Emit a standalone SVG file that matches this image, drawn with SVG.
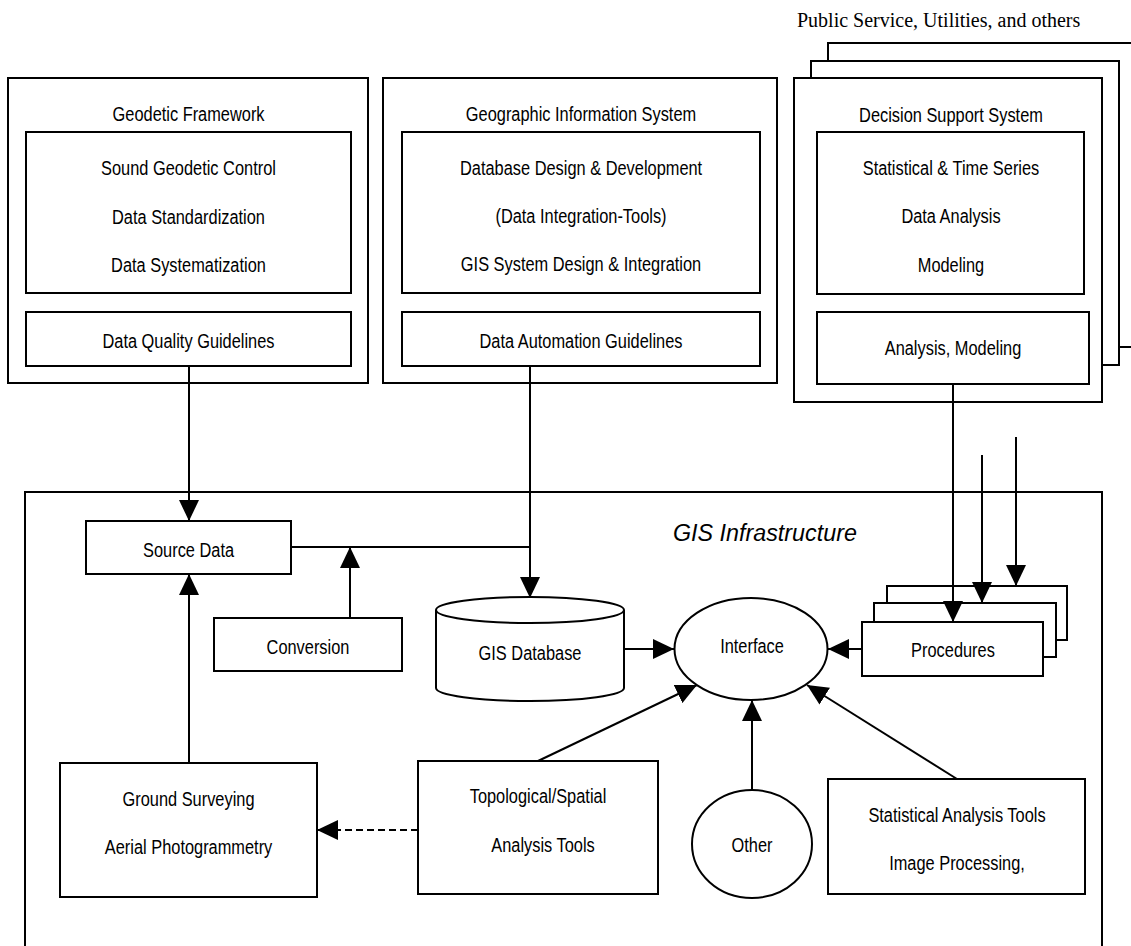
<svg xmlns="http://www.w3.org/2000/svg" width="1131" height="946" viewBox="0 0 1131 946">
  <style>
    .box { fill: #ffffff; stroke: #000000; stroke-width: 2; }
    .line { fill: none; stroke: #000000; stroke-width: 2; }
    .dash { fill: none; stroke: #000000; stroke-width: 2; stroke-dasharray: 7 4; }
    /* narrow sans: regular sans squeezed horizontally about each label's own centre */
    .t { font-family: "Liberation Sans Narrow", "Liberation Sans", Arial, sans-serif; font-size: 21px; fill: #000000; text-anchor: middle;
         transform-box: fill-box; transform-origin: center; transform: scaleX(0.78); }
    .serif { font-family: "Liberation Serif", "Times New Roman", serif; font-size: 20px; fill: #000000; }
    .title { font-family: "Liberation Sans", Arial, sans-serif; font-style: italic; font-size: 23.3px; fill: #000000; }
  </style>
  <defs>
    <marker id="arrow" markerUnits="userSpaceOnUse" markerWidth="21" markerHeight="20" refX="21" refY="10" orient="auto">
      <path d="M0,0 L21,10 L0,20 Z" fill="#000000"/>
    </marker>
  </defs>
  <rect width="1131" height="946" fill="#ffffff"/>

  <!-- GIS infrastructure frame (runs past the lower edge) -->
  <g id="gis-infrastructure">
    <rect class="box" x="25" y="492" width="1077" height="480"/>
    <text class="title" x="673" y="541">GIS Infrastructure</text>
  </g>

  <!-- Geodetic framework -->
  <g id="geodetic-framework">
    <rect class="box" x="8" y="78" width="360" height="305"/>
    <text class="t" x="188.5" y="121">Geodetic Framework</text>
    <rect class="box" x="26" y="132" width="325" height="161"/>
    <text class="t" x="188.5" y="175">Sound Geodetic Control</text>
    <text class="t" x="188.5" y="224">Data Standardization</text>
    <text class="t" x="188.5" y="272">Data Systematization</text>
    <rect class="box" x="26" y="312" width="325" height="54"/>
    <text class="t" x="188.5" y="348">Data Quality Guidelines</text>
  </g>

  <!-- Geographic information system -->
  <g id="geographic-information-system">
    <rect class="box" x="383" y="78" width="394" height="305"/>
    <text class="t" x="581" y="121">Geographic Information System</text>
    <rect class="box" x="402" y="132" width="358" height="161"/>
    <text class="t" x="581" y="175">Database Design &amp; Development</text>
    <text class="t" x="581" y="223">(Data Integration-Tools)</text>
    <text class="t" x="581" y="271">GIS System Design &amp; Integration</text>
    <rect class="box" x="402" y="312" width="358" height="54"/>
    <text class="t" x="581" y="348">Data Automation Guidelines</text>
  </g>

  <!-- Decision support system, stacked sheets -->
  <g id="decision-support-system">
    <text class="serif" x="797" y="27">Public Service, Utilities, and others</text>
    <rect class="box" x="828" y="43" width="330" height="304"/>
    <rect class="box" x="811" y="61" width="308" height="304"/>
    <rect class="box" x="794" y="78" width="308" height="324"/>
    <text class="t" x="951" y="122">Decision Support System</text>
    <rect class="box" x="817" y="132" width="267" height="162"/>
    <text class="t" x="951" y="175">Statistical &amp; Time Series</text>
    <text class="t" x="951" y="223">Data Analysis</text>
    <text class="t" x="951" y="272">Modeling</text>
    <rect class="box" x="817" y="312" width="272" height="72"/>
    <text class="t" x="953" y="355">Analysis, Modeling</text>
  </g>

  <g id="source-data">
    <rect class="box" x="86" y="521" width="205" height="53"/>
    <text class="t" x="188.5" y="557">Source Data</text>
  </g>

  <g id="conversion">
    <rect class="box" x="214" y="618" width="188" height="53"/>
    <text class="t" x="308" y="654">Conversion</text>
  </g>

  <g id="gis-database">
    <path class="box" d="M436,610 L436,688 A94,13 0 0 0 624,688 L624,610 A94,13 0 0 0 436,610 Z"/>
    <path class="line" d="M436,610 A94,13 0 0 0 624,610"/>
    <text class="t" x="530" y="660">GIS Database</text>
  </g>

  <g id="interface">
    <ellipse class="box" cx="751" cy="649" rx="76.5" ry="51"/>
    <text class="t" x="752" y="653">Interface</text>
  </g>

  <g id="procedures">
    <rect class="box" x="887" y="586" width="180" height="54"/>
    <rect class="box" x="874" y="603" width="182" height="54"/>
    <rect class="box" x="862" y="622" width="181" height="54"/>
    <text class="t" x="953" y="657">Procedures</text>
  </g>

  <g id="ground-surveying">
    <rect class="box" x="60" y="763" width="257" height="134"/>
    <text class="t" x="188.5" y="806">Ground Surveying</text>
    <text class="t" x="188.5" y="854">Aerial Photogrammetry</text>
  </g>

  <g id="topological-analysis">
    <rect class="box" x="418" y="761" width="240" height="133"/>
    <text class="t" x="538" y="803">Topological/Spatial</text>
    <text class="t" x="543" y="852">Analysis Tools</text>
  </g>

  <g id="other">
    <ellipse class="box" cx="752" cy="844" rx="60" ry="54"/>
    <text class="t" x="752" y="852">Other</text>
  </g>

  <g id="statistical-tools">
    <rect class="box" x="828" y="779" width="257" height="115"/>
    <text class="t" x="957" y="822">Statistical Analysis Tools</text>
    <text class="t" x="957" y="870">Image Processing,</text>
  </g>

  <!-- connectors -->
  <g id="connectors">
    <line class="line" x1="189" y1="366" x2="189" y2="521" marker-end="url(#arrow)"/>
    <line class="line" x1="530" y1="366" x2="530" y2="598" marker-end="url(#arrow)"/>
    <line class="line" x1="291" y1="547" x2="530" y2="547"/>
    <line class="line" x1="350" y1="618" x2="350" y2="547" marker-end="url(#arrow)"/>
    <line class="line" x1="189" y1="763" x2="189" y2="574" marker-end="url(#arrow)"/>
    <line class="line" x1="624" y1="649" x2="674" y2="649" marker-end="url(#arrow)"/>
    <line class="line" x1="862" y1="649" x2="828" y2="649" marker-end="url(#arrow)"/>
    <line class="line" x1="953" y1="384" x2="953" y2="622" marker-end="url(#arrow)"/>
    <line class="line" x1="982" y1="455" x2="982" y2="603" marker-end="url(#arrow)"/>
    <line class="line" x1="1016" y1="437" x2="1016" y2="586" marker-end="url(#arrow)"/>
    <line class="line" x1="538" y1="761" x2="697" y2="685" marker-end="url(#arrow)"/>
    <line class="line" x1="752" y1="790" x2="752" y2="700" marker-end="url(#arrow)"/>
    <line class="line" x1="957" y1="779" x2="807" y2="685" marker-end="url(#arrow)"/>
    <line class="dash" x1="418" y1="830" x2="317" y2="830" marker-end="url(#arrow)"/>
  </g>
</svg>
